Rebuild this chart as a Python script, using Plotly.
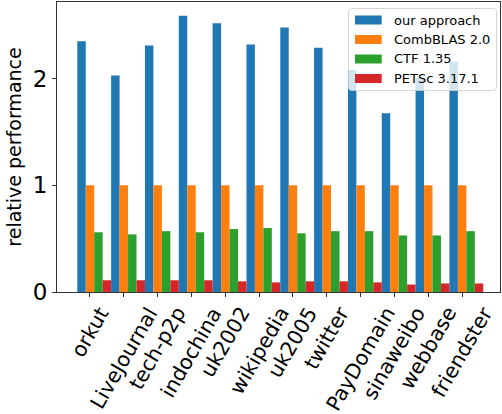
import numpy as np
import plotly.graph_objects as go

# Graph datasets on the x axis
graphs = ["orkut", "LiveJournal", "tech-p2p", "indochina", "uk2002", "wikipedia",
          "uk2005", "twitter", "PayDomain", "sinaweibo", "webbase", "friendster"]

# Performance relative to CombBLAS 2.0
our_approach = [2.35, 2.03, 2.31, 2.59, 2.52, 2.32, 2.48, 2.29, 2.08, 1.675, 2.01, 2.16]
combblas = [1.0] * 12
ctf = [0.56, 0.54, 0.57, 0.56, 0.59, 0.60, 0.55, 0.57, 0.57, 0.53, 0.53, 0.57]
petsc = [0.11, 0.11, 0.11, 0.11, 0.10, 0.09, 0.10, 0.10, 0.09, 0.07, 0.08, 0.08]

series = [
    ("our approach", our_approach, "#1f77b4"),
    ("CombBLAS 2.0", combblas, "#ff7f0e"),
    ("CTF 1.35", ctf, "#2ca02c"),
    ("PETSc 3.17.1", petsc, "#d62728"),
]

FONT = "DejaVu Sans"
W, H = 502, 414
M_L, M_R, M_T, M_B = 57, 2, 2, 122
bar_w = 0.25
x = np.arange(len(graphs))

plot_w = W - M_L - M_R
plot_h = H - M_T - M_B


def px_x(p):
    """Figure pixel column -> paper x."""
    return (p - M_L) / plot_w


def px_y(p):
    """Figure pixel row -> paper y."""
    return (H - M_B - p) / plot_h


fig = go.Figure()
for k, (name, vals, color) in enumerate(series):
    fig.add_trace(go.Bar(
        x=x, y=vals, name=name,
        width=bar_w, offset=-1.5 * bar_w + k * bar_w,
        marker=dict(color=color, line=dict(width=0)),
        showlegend=False,
    ))

# Rotated category labels centred under each tick
for xi, label in zip(x, graphs):
    fig.add_annotation(
        x=xi, xref="x", y=-0.028, yref="paper",
        text=label, textangle=-60, showarrow=False,
        xanchor="center", yanchor="top",
        font=dict(family=FONT, size=20.5, color="black"),
    )

# Legend box (rounded, translucent white) in the upper right corner
bx0, bx1, by0, by1, r = 348.5, 496.5, 8.5, 90.5, 3.0
X0, X1 = px_x(bx0), px_x(bx1)
Y0, Y1 = px_y(by0), px_y(by1)
rx, ry = r / plot_w, r / plot_h
box_path = (
    f"M {X0 + rx},{Y0} L {X1 - rx},{Y0} Q {X1},{Y0} {X1},{Y0 - ry} "
    f"L {X1},{Y1 + ry} Q {X1},{Y1} {X1 - rx},{Y1} "
    f"L {X0 + rx},{Y1} Q {X0},{Y1} {X0},{Y1 + ry} "
    f"L {X0},{Y0 - ry} Q {X0},{Y0} {X0 + rx},{Y0} Z"
)
fig.add_shape(type="path", path=box_path, xref="paper", yref="paper",
              fillcolor="rgba(255,255,255,0.8)",
              line=dict(color="rgba(204,204,204,0.8)", width=1), layer="above")

row_c = [20.0, 39.5, 59.0, 78.5]
for (name, _, color), cy in zip(series, row_c):
    fig.add_shape(type="rect", xref="paper", yref="paper",
                  x0=px_x(355.0), x1=px_x(381.7),
                  y0=px_y(cy - 4.5), y1=px_y(cy + 4.5),
                  fillcolor=color, line=dict(width=0), layer="above")
    fig.add_annotation(x=px_x(392.5), y=px_y(cy), xref="paper", yref="paper",
                       text=name, showarrow=False, xanchor="left",
                       yanchor="middle", borderpad=0,
                       font=dict(family=FONT, size=13, color="black"))

axis_line = dict(showline=True, linecolor="#333", linewidth=1, mirror=True,
                 ticks="outside", ticklen=4, tickwidth=1, tickcolor="#333",
                 showgrid=False, zeroline=False)

fig.update_layout(
    width=W, height=H,
    margin=dict(l=M_L, r=M_R, t=M_T, b=M_B),
    plot_bgcolor="white", paper_bgcolor="white",
    barmode="overlay", showlegend=False,
    font=dict(family=FONT, color="black"),
    xaxis=dict(range=[-0.975, 12.12], tickvals=list(x),
               ticktext=[""] * len(graphs), **axis_line),
    yaxis=dict(range=[0, 2.718], tickvals=[0, 1, 2],
               tickfont=dict(size=23, family=FONT),
               title=dict(text="relative performance",
                          font=dict(size=19, family=FONT), standoff=6),
               **axis_line),
)

fig.write_html("out.html")
